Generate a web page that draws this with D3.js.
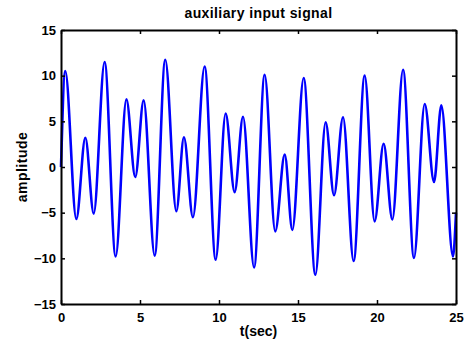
<!DOCTYPE html>
<html>
<head>
<meta charset="utf-8">
<script src="https://cdn.jsdelivr.net/npm/d3@7"></script>
<style>
  body { margin: 0; background: #fff; }
  text { font-family: Arial, "Liberation Sans", Helvetica, sans-serif; font-weight: bold; }
</style>
</head>
<body>
<div id="chart"></div>
<script>
// signal (local peaks and troughs)
const times = [0, 0.27, 0.97, 1.54, 2.07, 2.76, 3.46, 4.14, 4.70, 5.23, 5.93,
  6.60, 7.30, 7.78, 8.35, 9.09, 9.79, 10.42, 10.99, 11.52, 12.22,
  12.89, 13.56, 14.16, 14.64, 15.36, 16.10, 16.75, 17.28, 17.85, 18.52,
  19.22, 19.85, 20.42, 20.97, 21.65, 22.34, 23.02, 23.61, 24.07, 24.81, 25];
const amplitude = [0, 10.5, -5.7, 3.2, -5.1, 11.5, -9.8, 7.4, -1.1, 7.3, -9.7,
  11.75, -4.85, 3.25, -5.5, 11.0, -10.15, 5.85, -2.75, 5.5, -11.0,
  10.1, -7.05, 1.35, -6.9, 9.75, -11.8, 4.9, -3.1, 5.45, -10.3,
  10.0, -5.95, 2.55, -5.75, 10.65, -9.95, 6.9, -1.65, 6.75, -9.8, -5.0];
const xTicks = [0, 5, 10, 15, 20, 25];
const yTicks = [-15, -10, -5, 0, 5, 10, 15];

const W = 468, H = 345;
const margin = { left: 61, right: 12, top: 30, bottom: 41 };
const width = W - margin.left - margin.right;
const height = H - margin.top - margin.bottom;

const svg = d3.select("#chart").append("svg")
  .attr("width", W)
  .attr("height", H);

const g = svg.append("g")
  .attr("transform", "translate(" + margin.left + "," + margin.top + ")");

const x = d3.scaleLinear().domain([0, 25]).range([0, width]);
const y = d3.scaleLinear().domain([-15, 15]).range([height, 0]);

// signal line
const pts = times.map((t, i) => [t, amplitude[i]]);
g.append("path")
  .datum(pts)
  .attr("fill", "none")
  .attr("stroke", "#0000ff")
  .attr("stroke-width", 2.6)
  .attr("stroke-linejoin", "round")
  .attr("d", d3.line().x(d => x(d[0])).y(d => y(d[1])).curve(d3.curveMonotoneX));

// axes, ticks pointing inward on all four sides
function styleAxis(sel) {
  sel.select(".domain").attr("stroke", "#000").attr("stroke-width", 2);
  sel.selectAll(".tick line").attr("stroke", "#000").attr("stroke-width", 1.5);
  sel.selectAll("text").attr("fill", "#000").style("font-size", "13px");
}

g.append("g")
  .attr("transform", "translate(0," + height + ")")
  .call(d3.axisBottom(x).tickValues(xTicks).tickSize(-4).tickSizeOuter(0).tickPadding(9))
  .call(styleAxis);

g.append("g")
  .call(d3.axisLeft(y).tickValues(yTicks).tickSize(-4).tickSizeOuter(0).tickPadding(5))
  .call(styleAxis);

g.append("g")
  .call(d3.axisTop(x).tickValues(xTicks).tickSize(-4).tickSizeOuter(0).tickFormat(""))
  .call(styleAxis);

g.append("g")
  .attr("transform", "translate(" + width + ",0)")
  .call(d3.axisRight(y).tickValues(yTicks).tickSize(-4).tickSizeOuter(0).tickFormat(""))
  .call(styleAxis);

// labels
svg.append("text")
  .attr("x", margin.left + width / 2)
  .attr("y", 18)
  .attr("text-anchor", "middle")
  .style("font-size", "14px")
  .style("letter-spacing", "0.4px")
  .text("auxiliary input signal");

svg.append("text")
  .attr("x", margin.left + width / 2)
  .attr("y", 336)
  .attr("text-anchor", "middle")
  .style("font-size", "14px")
  .text("t(sec)");

svg.append("text")
  .attr("transform", "translate(27," + (margin.top + height / 2) + ") rotate(-90)")
  .attr("text-anchor", "middle")
  .style("font-size", "14px")
  .style("letter-spacing", "0.5px")
  .text("amplitude");
</script>
</body>
</html>
